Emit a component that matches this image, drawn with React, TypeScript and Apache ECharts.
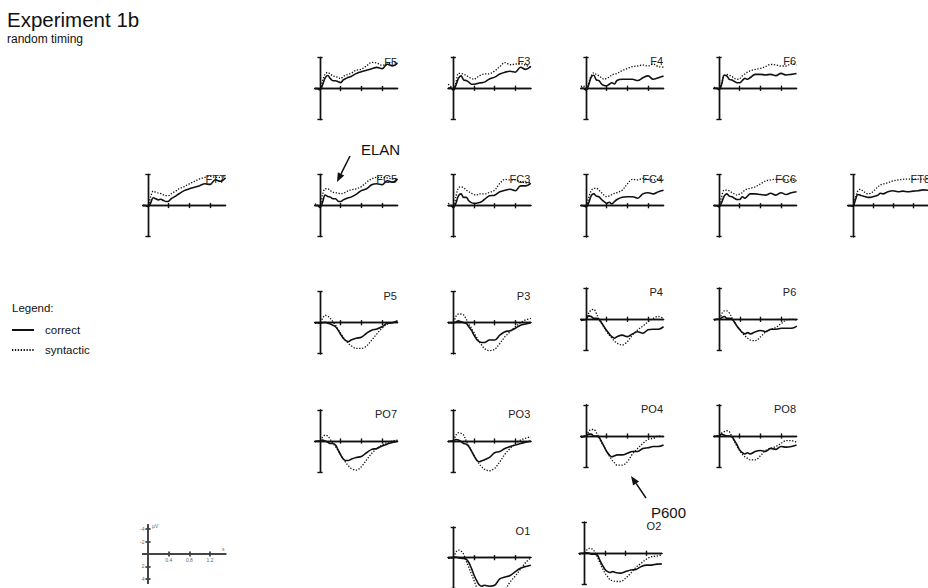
import React, { useEffect, useRef } from "react";
import * as echarts from "echarts";

// ---------- data (µV, negative plotted upward) ----------
const TIMES = [-0.1, -0.05, 0, 0.05, 0.1, 0.15, 0.2, 0.25, 0.3, 0.35, 0.4, 0.45, 0.5, 0.55, 0.6, 0.7, 0.8, 0.9, 1.0, 1.1, 1.2, 1.3, 1.4, 1.5];
const X_TICKS = [0.4, 0.8, 1.2];
const KEY_X_LABELS = [0.4, 0.8, 1.2];
const KEY_Y_LABELS = [-4, -2, 2, 4];
const SERIES_NAMES = ["correct", "syntactic"];

const F5_C = [0, 0, 0.2, -0.6, -1.7, -2.1, -1.6, -1.25, -1.25, -1.1, -0.95, -1.4, -1.6, -1.8, -1.95, -2.4, -2.7, -2.95, -3.2, -3.4, -3.2, -3.9, -3.65, -4.1];
const F5_S = [0, 0.1, 0.2, -1.25, -2.3, -2.6, -2.3, -2.05, -1.9, -1.8, -1.6, -1.95, -2.15, -2.3, -2.45, -2.95, -3.1, -3.65, -4.2, -4.1, -3.75, -3.9, -4.1, -4.2];
const F3_C = [0, -0.1, 0.3, -0.5, -1.6, -2.0, -1.35, -1.25, -1.0, -0.65, -0.65, -0.75, -0.85, -0.9, -1.0, -1.5, -1.8, -2.3, -2.6, -2.75, -2.6, -3.4, -3.05, -3.55];
const F3_S = [-0.65, -0.3, 0.3, -0.9, -2.4, -2.4, -2.25, -2.1, -1.8, -1.6, -1.45, -1.7, -2.0, -2.2, -2.3, -2.35, -2.8, -3.5, -4.15, -3.8, -3.9, -4.0, -3.7, -3.4];
const F4_C = [0, 0, 0.3, -0.5, -1.8, -2.1, -1.35, -1.25, -0.7, -0.45, -0.4, -0.65, -0.9, -0.7, -1.25, -1.45, -1.45, -1.45, -1.25, -1.7, -2.0, -1.45, -1.7, -2.0];
const F4_S = [-0.3, -0.4, 0.3, -0.8, -2.0, -2.5, -2.25, -2.0, -1.7, -1.45, -1.6, -1.8, -2.15, -2.3, -2.4, -2.85, -3.2, -3.5, -3.6, -3.75, -3.6, -3.9, -3.5, -3.4];
const F6_C = [0, 0, 0.2, -0.6, -2.1, -2.0, -1.45, -1.35, -1.1, -0.9, -0.9, -1.25, -1.6, -1.45, -1.7, -2.25, -2.25, -2.15, -2.25, -2.05, -2.4, -2.15, -2.25, -2.4];
const F6_S = [-0.15, -0.1, 0.15, -0.8, -2.0, -2.25, -2.1, -1.9, -1.6, -1.45, -1.55, -2.0, -2.3, -2.6, -2.8, -3.05, -3.2, -3.5, -3.85, -3.75, -3.6, -3.6, -4.0, -3.75];
const FT7_C = [0, 0, 0.15, -0.4, -1.25, -1.1, -0.9, -1.0, -0.8, -0.65, -0.7, -1.1, -1.35, -1.6, -1.9, -2.4, -2.7, -2.95, -3.2, -3.5, -3.4, -4.15, -3.9, -4.45];
const FT7_S = [0, 0, 0.15, -1.35, -2.3, -2.15, -2.0, -1.9, -1.7, -1.6, -1.6, -1.9, -2.15, -2.4, -2.7, -3.05, -3.5, -3.9, -4.3, -4.55, -4.7, -4.55, -4.55, -4.85];
const FC5_C = [0, 0, 0.3, -0.55, -1.7, -1.45, -1.35, -1.1, -1.1, -0.7, -0.65, -0.9, -1.1, -1.25, -1.35, -1.8, -2.4, -2.7, -3.35, -3.5, -3.35, -4.0, -3.75, -4.3];
const FC5_S = [-0.25, -0.1, 0.3, -1.75, -2.7, -2.7, -2.4, -2.15, -2.05, -2.0, -1.9, -2.0, -2.15, -2.4, -2.5, -2.7, -3.05, -3.75, -4.3, -4.55, -4.55, -4.45, -4.3, -4.4];
const FC3_C = [0, 0, 0.3, -0.4, -1.6, -1.9, -1.35, -1.35, -0.8, -0.5, -0.4, -0.4, -0.5, -0.65, -1.0, -1.6, -1.7, -2.25, -2.5, -2.65, -2.4, -3.2, -3.2, -3.6];
const FC3_S = [-0.4, -0.1, 0.4, -1.45, -2.9, -3.05, -2.9, -2.5, -2.25, -2.0, -1.8, -1.7, -1.9, -1.9, -1.9, -2.15, -2.5, -3.6, -4.25, -4.15, -4.15, -3.9, -3.7, -3.7];
const FC4_C = [0, 0, 0.2, -0.4, -1.6, -1.9, -1.55, -1.45, -1.0, -0.65, -0.4, -0.55, -0.3, -0.65, -1.0, -1.35, -1.45, -1.45, -1.2, -1.9, -2.1, -1.9, -2.25, -2.5];
const FC4_S = [-0.1, 0, 0.15, -1.2, -2.4, -2.8, -2.8, -2.5, -2.1, -1.7, -1.45, -1.6, -1.8, -2.0, -2.1, -2.5, -3.5, -4.25, -4.15, -4.4, -4.25, -4.15, -4.25, -4.15];
const FC6_C = [0, 0, 0.2, -0.5, -1.55, -1.9, -1.55, -1.45, -1.2, -1.0, -1.0, -1.45, -1.2, -1.55, -1.9, -1.9, -1.8, -1.7, -2.0, -1.7, -2.1, -1.8, -2.1, -2.25];
const FC6_S = [-0.1, 0, 0, -1.45, -2.5, -2.5, -2.4, -2.1, -1.9, -1.7, -1.9, -2.1, -2.5, -2.7, -2.8, -3.05, -3.5, -4.0, -4.15, -4.25, -4.25, -4.15, -4.15, -4.0];
const FT8_C = [0, 0, 0.1, -0.9, -1.8, -1.7, -1.55, -1.45, -1.35, -1.35, -1.45, -1.55, -1.7, -2.0, -1.9, -2.25, -2.4, -2.25, -2.35, -2.25, -2.35, -2.4, -2.55, -2.5];
const FT8_S = [0, 0, 0.1, -1.2, -2.4, -2.65, -2.4, -2.1, -1.9, -2.0, -2.25, -2.65, -3.05, -3.35, -3.5, -3.7, -4.0, -4.15, -4.25, -4.3, -4.3, -4.3, -4.3, -4.3];
const P5_C = [0, 0, 0.1, 0, -0.05, 0.1, 0.2, 0.4, 0.65, 1.2, 1.9, 2.5, 2.9, 3.05, 2.8, 2.5, 2.35, 1.7, 1.2, 1.0, 0.65, 0.1, 0, -0.3];
const P5_S = [0.1, 0.05, 0, -0.7, -1.2, -1.05, -0.7, -0.15, 0.4, 1.1, 1.7, 2.35, 2.9, 3.35, 3.7, 4.15, 4.15, 3.75, 2.8, 1.8, 0.9, 0.25, 0, -0.25];
const P3_C = [0, 0, 0, -0.1, -0.3, -0.15, 0, 0.1, 0.65, 1.2, 2.0, 2.65, 3.05, 3.2, 3.2, 2.8, 2.8, 2.0, 1.45, 1.3, 0.9, 0.4, 0.2, 0];
const P3_S = [0.1, 0.05, 0, -1.0, -1.4, -1.4, -1.25, -0.55, 0.2, 0.9, 1.6, 2.35, 3.05, 3.6, 4.15, 4.5, 4.3, 3.35, 2.25, 1.45, 0.65, 0, -0.45, -0.7];
const P4_C = [0.2, 0.1, 0, -0.55, -0.45, -0.15, -0.15, 0, 0.55, 1.2, 1.8, 2.35, 2.8, 3.05, 2.8, 2.55, 2.8, 2.35, 2.0, 2.25, 1.7, 1.6, 1.6, 1.2];
const P4_S = [0, 0, 0.1, -0.95, -1.5, -1.6, -0.95, 0, 0.65, 1.3, 2.0, 2.55, 3.05, 3.5, 3.85, 4.15, 3.6, 2.55, 1.7, 1.1, 0.4, -0.15, -0.45, -0.15];
const P6_C = [0.1, 0, 0, -0.3, -0.45, -0.15, -0.15, 0, 0.55, 1.2, 1.7, 2.15, 2.35, 2.15, 2.35, 2.0, 1.8, 2.0, 1.6, 1.6, 1.45, 1.45, 1.45, 1.1];
const P6_S = [0.1, 0, 0, -0.95, -1.35, -1.35, -0.95, -0.15, 0.55, 1.2, 1.7, 2.25, 2.7, 3.05, 3.35, 3.45, 2.8, 2.0, 1.6, 1.3, 0.65, 0.1, 0, 0.1];
const PO7_C = [0.1, 0, 0, -0.15, 0, 0.2, 0.4, 0.4, 0.65, 1.45, 2.25, 2.9, 3.15, 3.15, 2.95, 2.65, 2.5, 1.9, 1.35, 1.2, 0.8, 0.5, 0.25, 0];
const PO7_S = [0.1, 0.05, 0, -0.6, -0.95, -0.8, -0.25, 0.4, 0.9, 1.55, 2.25, 2.9, 3.5, 4.0, 4.4, 4.7, 4.15, 3.05, 2.0, 1.2, 0.65, 0.25, 0, -0.15];
const PO3_C = [0.1, 0, 0, -0.25, -0.15, 0.1, 0.4, 0.5, 0.9, 1.6, 2.4, 3.05, 3.35, 3.2, 3.05, 2.65, 1.9, 1.7, 1.2, 0.9, 0.65, 0.4, 0.2, 0];
const PO3_S = [0.1, 0.05, 0, -0.95, -1.35, -1.25, -0.95, 0, 0.8, 1.55, 2.25, 3.05, 3.7, 4.15, 4.55, 4.8, 4.4, 3.35, 2.1, 1.2, 0.4, -0.15, -0.45, -0.7];
const PO4_C = [0.2, 0.1, 0, -0.3, -0.3, 0, 0, 0.2, 0.9, 1.7, 2.5, 3.05, 3.35, 3.2, 3.05, 3.05, 2.8, 2.5, 2.5, 2.0, 1.9, 1.7, 1.7, 1.45];
const PO4_S = [0.1, 0, 0, -0.7, -1.05, -1.05, -0.55, 0.2, 1.05, 1.7, 2.5, 3.2, 3.85, 4.3, 4.7, 4.7, 4.15, 2.9, 2.0, 1.2, 0.55, 0.4, 0, 0.1];
const PO8_C = [0.1, 0, 0, -0.3, -0.15, 0, 0, 0.1, 0.75, 1.45, 2.25, 2.7, 2.9, 2.7, 2.9, 2.5, 2.35, 2.5, 2.0, 2.15, 1.7, 1.8, 1.7, 1.45];
const PO8_S = [0.1, 0, 0, -0.45, -0.7, -0.85, -0.7, 0.1, 0.9, 1.7, 2.35, 2.9, 3.35, 3.6, 3.85, 3.85, 3.2, 2.35, 2.0, 1.7, 1.2, 0.75, 0.75, 1.05];
const O1_C = [0.1, 0, 0, -0.1, 0, 0.1, 0.15, 0.25, 0.8, 1.75, 2.85, 3.75, 4.45, 4.7, 4.55, 4.7, 4.55, 3.5, 3.2, 2.95, 2.3, 1.75, 1.45, 1.25];
const O1_S = [0.1, 0.05, 0, -0.9, -1.25, -1.1, -0.55, 0.55, 1.6, 2.7, 3.75, 4.85, 5.6, 6.0, 6.2, 6.3, 6.3, 6.2, 5.3, 4.0, 3.0, 1.9, 0.8, 0];
const O2_C = [0.1, 0, 0, -0.1, 0, 0.15, 0.15, 0.25, 1.1, 1.9, 2.6, 2.95, 3.1, 2.95, 3.1, 3.2, 2.95, 2.7, 2.6, 2.15, 1.9, 1.9, 1.75, 1.7];
const O2_S = [0.1, 0.05, 0, -0.55, -0.8, -0.7, -0.25, 0.55, 1.5, 2.4, 3.2, 3.75, 4.3, 4.4, 4.55, 4.55, 4.0, 3.2, 2.25, 1.6, 0.95, 0.55, 0.45, 0.25];

const ELECTRODES = [
  { name: "F5", correct: F5_C, syntactic: F5_S },
  { name: "F3", correct: F3_C, syntactic: F3_S },
  { name: "F4", correct: F4_C, syntactic: F4_S },
  { name: "F6", correct: F6_C, syntactic: F6_S },
  { name: "FT7", correct: FT7_C, syntactic: FT7_S },
  { name: "FC5", correct: FC5_C, syntactic: FC5_S },
  { name: "FC3", correct: FC3_C, syntactic: FC3_S },
  { name: "FC4", correct: FC4_C, syntactic: FC4_S },
  { name: "FC6", correct: FC6_C, syntactic: FC6_S },
  { name: "FT8", correct: FT8_C, syntactic: FT8_S },
  { name: "P5", correct: P5_C, syntactic: P5_S },
  { name: "P3", correct: P3_C, syntactic: P3_S },
  { name: "P4", correct: P4_C, syntactic: P4_S },
  { name: "P6", correct: P6_C, syntactic: P6_S },
  { name: "PO7", correct: PO7_C, syntactic: PO7_S },
  { name: "PO3", correct: PO3_C, syntactic: PO3_S },
  { name: "PO4", correct: PO4_C, syntactic: PO4_S },
  { name: "PO8", correct: PO8_C, syntactic: PO8_S },
  { name: "O1", correct: O1_C, syntactic: O1_S },
  { name: "O2", correct: O2_C, syntactic: O2_S },
];

// ---------- layout (pixel origin of each panel: t = 0 s, v = 0 µV) ----------
const ORIGINS: Record<string, [number, number]> = {
  F5: [320, 88.5], F3: [453.3, 88.3], F4: [586, 88.3], F6: [719, 88.3],
  FT7: [148, 205.5], FC5: [320, 205.5], FC3: [453.3, 205.7], FC4: [586, 205.7], FC6: [719, 205.7], FT8: [853, 205.7],
  P5: [320, 322.7], P3: [453.3, 322.7], P4: [586, 319.3], P6: [719.3, 319.3],
  PO7: [320, 441], PO3: [453.3, 441], PO4: [586, 436], PO8: [719, 436],
  O1: [453.3, 558.3], O2: [584.3, 553.3],
};
const KEY_ORIGIN: [number, number] = [148, 554];

const PX_PER_S = 51.7;
const PX_PER_UV = 6.2;
const T_MIN = -0.1;
const T_MAX = 1.5;
const V_MAX = 5;
const FONT = "'Liberation Sans', Arial, Helvetica, sans-serif";
const INK = "#111";

function arrow(tail: [number, number], tip: [number, number]) {
  const dx = tip[0] - tail[0];
  const dy = tip[1] - tail[1];
  const len = Math.hypot(dx, dy);
  const ux = dx / len, uy = dy / len;
  const hl = 9, hw = 3.6;
  const bx = tip[0] - ux * hl, by = tip[1] - uy * hl;
  return [
    { type: "line", shape: { x1: tail[0], y1: tail[1], x2: bx, y2: by }, style: { stroke: INK, lineWidth: 1.5 } },
    {
      type: "polygon",
      shape: { points: [[tip[0], tip[1]], [bx - uy * hw, by + ux * hw], [bx + uy * hw, by - ux * hw]] },
      style: { fill: INK },
    },
  ];
}

function buildOption() {
  const grid: any[] = [];
  const xAxis: any[] = [];
  const yAxis: any[] = [];
  const series: any[] = [];
  const graphic: any[] = [];
  const axisLS = { color: INK, width: 1.4 };

  const addGrid = (x0: number, y0: number, vmax: number) => {
    grid.push({
      left: x0 + T_MIN * PX_PER_S,
      top: y0 - vmax * PX_PER_UV,
      width: (T_MAX - T_MIN) * PX_PER_S,
      height: 2 * vmax * PX_PER_UV,
      containLabel: false,
    });
    return grid.length - 1;
  };

  ELECTRODES.forEach((el) => {
    const [x0, y0] = ORIGINS[el.name];
    const g = addGrid(x0, y0, V_MAX);
    [false, true].forEach((inside) => {
      xAxis.push({
        gridIndex: g, type: "value", min: T_MIN, max: T_MAX, position: "bottom",
        axisLine: { show: true, onZero: true, lineStyle: axisLS },
        axisTick: { show: true, inside, customValues: X_TICKS, length: 2.6, lineStyle: axisLS },
        axisLabel: { show: false }, splitLine: { show: false },
      });
      yAxis.push({
        gridIndex: g, type: "value", min: -V_MAX, max: V_MAX, inverse: true, position: "left",
        axisLine: { show: true, onZero: true, lineStyle: axisLS },
        axisTick: { show: true, inside, customValues: [-V_MAX, V_MAX], length: 2.6, lineStyle: axisLS },
        axisLabel: { show: false }, splitLine: { show: false },
      });
    });
    const ax = xAxis.length - 2;
    const ay = yAxis.length - 2;
    SERIES_NAMES.forEach((sn) => {
      const vals: number[] = (el as any)[sn];
      series.push({
        name: sn, type: "line", xAxisIndex: ax, yAxisIndex: ay,
        data: TIMES.map((t, i) => [t, vals[i]]),
        symbol: "none", smooth: 0.35, clip: false, silent: true,
        lineStyle: sn === "correct"
          ? { color: INK, width: 1.6, type: "solid" }
          : { color: INK, width: 1.3, type: [1.3, 1.6] },
        itemStyle: { color: INK },
      });
    });
    graphic.push({
      type: "text", x: x0 + 77, y: y0 - 27, silent: true,
      style: { text: el.name, fontSize: 11, fontFamily: FONT, fill: "#222", align: "right", verticalAlign: "middle" },
    });
  });

  // scale key
  {
    const [x0, y0] = KEY_ORIGIN;
    const kv = 4.7;
    const g = addGrid(x0, y0, kv);
    const keyLS = { color: "#444", width: 1.8 };
    [false, true].forEach((inside) => {
      xAxis.push({
        gridIndex: g, type: "value", min: T_MIN, max: T_MAX, position: "bottom",
        axisLine: { show: true, onZero: true, lineStyle: keyLS },
        axisTick: { show: true, inside, customValues: X_TICKS, length: 2.6, lineStyle: keyLS },
        axisLabel: { show: false },
        splitLine: { show: false },
      });
      yAxis.push({
        gridIndex: g, type: "value", min: -kv, max: kv, inverse: true, position: "left",
        axisLine: { show: true, onZero: true, lineStyle: keyLS },
        axisTick: { show: true, inside, customValues: KEY_Y_LABELS, length: 2.6, lineStyle: keyLS },
        axisLabel: { show: false },
        splitLine: { show: false },
      });
    });
    const keyText = (text: string, x: number, y: number, align: string) => ({
      type: "text", x, y, silent: true,
      style: { text, fontSize: 5, fontFamily: FONT, fill: "#666", align, verticalAlign: "middle" },
    });
    KEY_X_LABELS.forEach((v) => graphic.push(keyText(String(v), x0 + v * PX_PER_S, y0 + 5.5, "center")));
    KEY_Y_LABELS.forEach((v) => graphic.push(keyText(String(v), x0 - 3.5, y0 + v * PX_PER_UV, "right")));
    graphic.push(keyText("µV", x0 + 4, y0 - kv * PX_PER_UV + 1.5, "left"));
    graphic.push(keyText("s", x0 + 74, y0 - 5, "left"));
  }

  // legend heading + annotations
  graphic.push({
    type: "text", x: 12, y: 308, silent: true,
    style: { text: "Legend:", fontSize: 11.5, fontFamily: FONT, fill: "#111", align: "left", verticalAlign: "middle" },
  });
  graphic.push({
    type: "text", x: 361, y: 149, silent: true,
    style: { text: "ELAN", fontSize: 15, fontFamily: FONT, fill: INK, align: "left", verticalAlign: "middle" },
  });
  graphic.push(...arrow([350, 156], [337, 182]));
  graphic.push({
    type: "text", x: 651, y: 512, silent: true,
    style: { text: "P600", fontSize: 15, fontFamily: FONT, fill: INK, align: "left", verticalAlign: "middle" },
  });
  graphic.push(...arrow([646, 498], [631, 476]));

  return {
    animation: false,
    backgroundColor: "#ffffff",
    textStyle: { fontFamily: FONT },
    title: {
      text: "Experiment 1b",
      subtext: "random timing",
      left: 7,
      top: 9,
      itemGap: 3,
      padding: 0,
      textStyle: { fontSize: 20.5, fontWeight: "normal", color: "#111", fontFamily: FONT },
      subtextStyle: { fontSize: 12, color: "#111", fontFamily: FONT },
    },
    legend: {
      data: SERIES_NAMES,
      orient: "vertical",
      left: 11,
      top: 324,
      padding: 0,
      itemWidth: 22,
      itemHeight: 8,
      itemGap: 8,
      selectedMode: false,
      itemStyle: { opacity: 0 },
      textStyle: { fontSize: 11.5, color: "#111", fontFamily: FONT, padding: [0, 0, 0, 6] },
    },
    grid,
    xAxis,
    yAxis,
    series,
    graphic,
  };
}

export default function App() {
  const ref = useRef<HTMLDivElement>(null);
  useEffect(() => {
    if (!ref.current) return;
    const chart = echarts.init(ref.current, undefined, { renderer: "svg" });
    chart.setOption(buildOption() as any);
    return () => chart.dispose();
  }, []);
  return (
    <div
      ref={ref}
      style={{ position: "fixed", left: 0, top: 0, width: 928, height: 588, background: "#fff" }}
    />
  );
}
